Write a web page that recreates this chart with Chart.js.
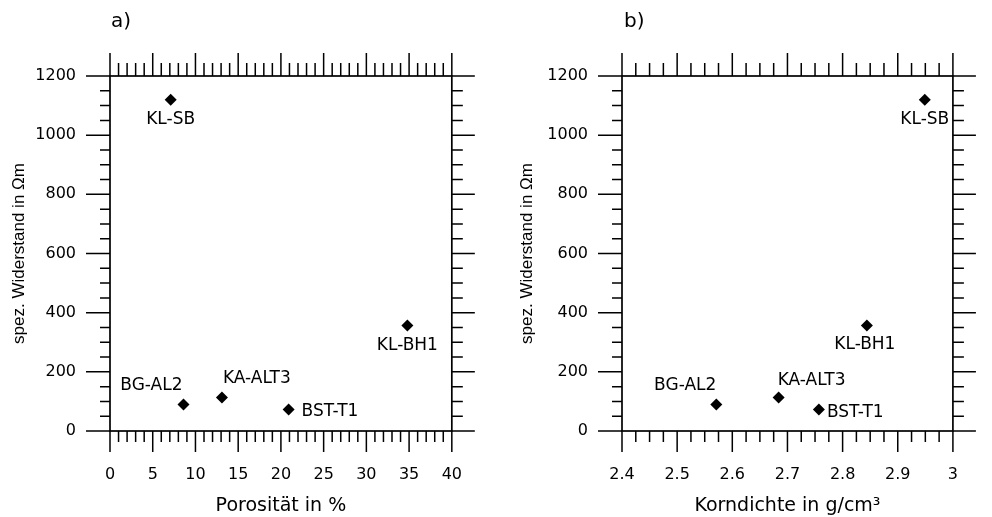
<!DOCTYPE html>
<html>
<head>
<meta charset="utf-8">
<script src="https://cdn.jsdelivr.net/npm/chart.js@4.4.1/dist/chart.umd.min.js"></script>
<style>
 body { margin: 0; background: #fff; }
 .wrap { display: flex; width: 992px; height: 517px; }
 canvas { display: block; }
</style>
</head>
<body>
<div class="wrap">
 <canvas id="poro" width="496" height="517"></canvas>
 <canvas id="dens" width="496" height="517"></canvas>
</div>
<script>
// sample data
var sampleNames = ['KL-SB', 'BG-AL2', 'KA-ALT3', 'BST-T1', 'KL-BH1'];
var resistivity = [1120, 90, 113, 73, 357];      // spez. Widerstand in Ohm m
var porosity = [7.1, 8.6, 13.1, 20.9, 34.8];      // Porositaet in %
var grainDensity = [2.949, 2.571, 2.684, 2.757, 2.844]; // Korndichte in g/cm3

// label placement next to each point (dx, dy, align)
var labelPosA = [[0, 20, 'center'], [-1, -19, 'right'], [1, -19, 'left'], [13, 2, 'left'], [0, 20, 'center']];
var labelPosB = [[0, 20, 'center'], [0, -19, 'right'], [-1, -17, 'left'], [8, 3, 'left'], [-2, 19, 'center']];

var ink = '#000';
Chart.defaults.font.family = 'DejaVu Sans';
Chart.defaults.color = ink;

// frame with outward major/minor ticks on all four sides + point labels
var frameTicks = {
 id: 'frameTicks',
 afterDraw: function(chart, args, opts) {
 var ctx = chart.ctx;
 var xs = chart.scales.x, ys = chart.scales.y;
 var a = chart.chartArea;
 ctx.save();
 ctx.strokeStyle = ink;

 function each(scale, minor, major, fn) {
 var n = Math.round((scale.max - scale.min) / minor);
 for (var i = 0; i <= n; i++) {
 var v = scale.min + i * minor;
 var k = (v - scale.min) / major;
 var isMajor = Math.abs(k - Math.round(k)) < 1e-6;
 fn(scale.getPixelForValue(v), isMajor);
 }
 }

 ctx.lineWidth = 1.5;
 ctx.beginPath();
 each(xs, opts.xMinor, opts.xMajor, function(p, big) {
 ctx.moveTo(p, a.top); ctx.lineTo(p, a.top - (big ? 23 : 13));
 ctx.moveTo(p, a.bottom); ctx.lineTo(p, a.bottom + (big ? 21 : 11));
 });
 each(ys, opts.yMinor, opts.yMajor, function(p, big) {
 ctx.moveTo(a.left, p); ctx.lineTo(a.left - (big ? 24 : 10), p);
 ctx.moveTo(a.right, p); ctx.lineTo(a.right + (big ? 23 : 11), p);
 });
 ctx.stroke();

 ctx.lineWidth = 1.7;
 ctx.strokeRect(a.left, a.top, a.right - a.left, a.bottom - a.top);

 // point labels
 ctx.fillStyle = ink;
 ctx.font = '17px "DejaVu Sans"';
 ctx.textBaseline = 'middle';
 var meta = chart.getDatasetMeta(0);
 meta.data.forEach(function(pt, i) {
 var lp = opts.labelPos[i];
 ctx.textAlign = lp[2];
 ctx.fillText(sampleNames[i], pt.x + lp[0], pt.y + lp[1]);
 });

 // panel letter
 ctx.font = '20px "DejaVu Sans"';
 ctx.textAlign = 'left';
 ctx.fillText(opts.letter, a.left + opts.letterDx, 22);
 ctx.restore();
 }
};

function plain(v) { return Number(v.toFixed(2)).toString(); }

function makePanel(id, xValues, xOpts, panel) {
 var pts = xValues.map(function(v, i) { return { x: v, y: resistivity[i] }; });
 return new Chart(document.getElementById(id), {
 type: 'scatter',
 data: {
 datasets: [{
 data: pts,
 pointStyle: 'rectRot',
 pointRadius: 6,
 pointBackgroundColor: ink,
 pointBorderColor: ink,
 pointBorderWidth: 0
 }]
 },
 options: {
 responsive: false,
 animation: false,
 layout: { padding: { top: 76, right: panel.padRight, left: 0, bottom: 0 } },
 plugins: {
 legend: { display: false },
 tooltip: { enabled: false },
 frameTicks: panel.ticks
 },
 scales: {
 x: {
 type: 'linear',
 min: xOpts.min,
 max: xOpts.max,
 grid: { display: false, drawTicks: false },
 border: { display: false },
 ticks: { stepSize: xOpts.step, padding: 34, font: { size: 16 }, color: ink, callback: plain },
 title: {
 display: true,
 text: xOpts.title,
 font: { size: 19 },
 color: ink,
 padding: { top: 0, bottom: 0 }
 },
 afterFit: function(s) { s.height = 86; }
 },
 y: {
 min: 0,
 max: 1200,
 grid: { display: false, drawTicks: false },
 border: { display: false },
 ticks: { stepSize: 200, padding: 34, font: { size: 16 }, color: ink, callback: plain },
 title: {
 display: true,
 text: 'spez. Widerstand in \u03A9m',
 font: { size: 17, family: 'Liberation Sans' },
 color: ink,
 padding: { top: panel.titlePad, bottom: 0 }
 },
 afterFit: function(s) { s.width = panel.yWidth; }
 }
 }
 },
 plugins: [frameTicks]
 });
}

makePanel('poro', porosity,
 { min: 0, max: 40, step: 5, title: 'Porosit\u00e4t in %' },
 { padRight: 34, yWidth: 110, titlePad: 9,
 ticks: { xMinor: 1, xMajor: 5, yMinor: 50, yMajor: 200, labelPos: labelPosA, letter: 'a)', letterDx: 1 } });

makePanel('dens', grainDensity,
 { min: 2.4, max: 3, step: 0.1, title: 'Korndichte in g/cm\u00b3' },
 { padRight: 18, yWidth: 126, titlePad: 21,
 ticks: { xMinor: 0.025, xMajor: 0.1, yMinor: 50, yMajor: 200, labelPos: labelPosB, letter: 'b)', letterDx: 2 } });
</script>
</body>
</html>
